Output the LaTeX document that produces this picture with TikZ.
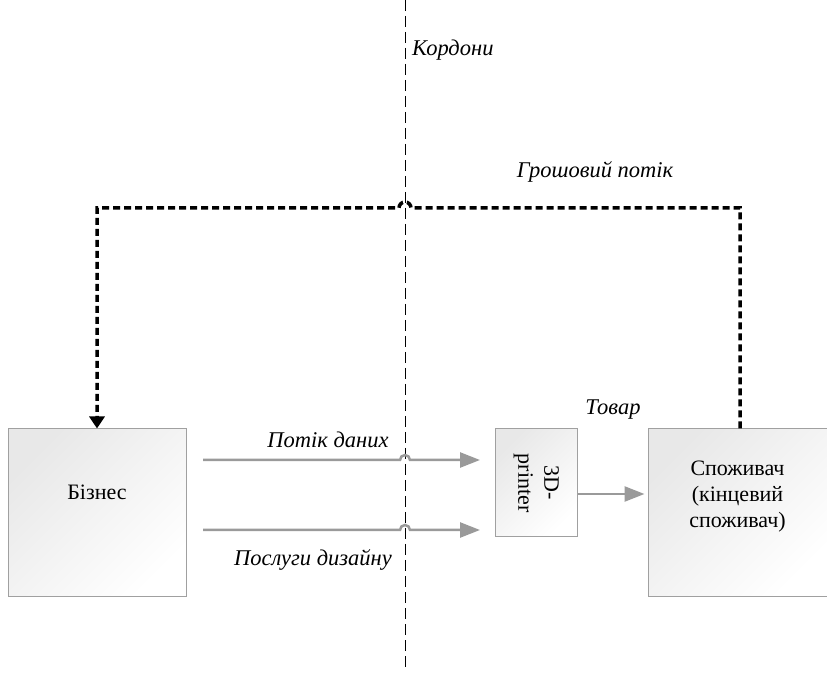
\documentclass[tikz,border=0pt]{standalone}
\usepackage{fontspec}
\setmainfont{Liberation Serif}
\usetikzlibrary{arrows.meta}
\definecolor{boxedge}{HTML}{A0A0A0}
\definecolor{flowgray}{HTML}{9A9A9A}
\tikzset{
  box/.style={draw=boxedge, line width=1pt, left color=gray!18, right color=white, shading angle=45, inner sep=0pt, align=center, font=\fontsize{22}{26}\selectfont},
  flow/.style={draw=flowgray, line width=2.5pt, -{Triangle[length=20pt,width=15pt]}},
  money/.style={draw=black, line width=3.5pt, dash pattern=on 7pt off 4pt, -{Triangle[length=12pt,width=15pt]}},
  border/.style={draw=black, line width=1pt, dash pattern=on 11pt off 5pt},
  lbl/.style={font=\fontsize{22.5}{26}\selectfont\itshape, inner sep=0pt}
}
\begin{document}
\begin{tikzpicture}[x=1pt,y=1pt]
\useasboundingbox (0,0) rectangle (827,672);
% boundary line
\coordinate (btop) at (405,672);
\coordinate (bbot) at (405,0);
\draw[border] (btop) -- (bbot);
\node[lbl, anchor=west] (kord) at (412,622) {Кордони};
% boxes
\node[box, minimum width=178pt, minimum height=168pt] (biz) at (97,159) {\raisebox{13pt}[0pt][0pt]{Бізнес}};
\node[box, minimum width=82pt, minimum height=108pt] (prn) at (536.5,189) {\rotatebox{-90}{\begin{tabular}{@{}c@{}}3D-\\printer\end{tabular}}};
\node[box, minimum width=179pt, minimum height=168pt] (cons) at (737.5,159) {\raisebox{12pt}[0pt][0pt]{\begin{tabular}{@{}c@{}}Споживач\\(кінцевий\\споживач)\end{tabular}}};
% flows
\coordinate (f1s) at (203,212);
\coordinate (f1e) at (480,212);
\coordinate (f2s) at (203,142);
\coordinate (f2e) at (480,142);
\draw[flow] (f1s) -- (400,212) arc (180:0:5) -- (f1e);
\draw[flow] (f2s) -- (400,142) arc (180:0:5) -- (f2e);
\draw[flow] (prn.east |- 0,178) -- ([xshift=-3pt]cons.west |- 0,178);
\node[lbl] (l1) at (328,232) {Потік даних};
\node[lbl] (l2) at (313,112) {Послуги дизайну};
\node[lbl] (l3) at (613,262) {Товар};
% money flow
\coordinate (m1) at (740,464);
\coordinate (m2) at (97,464);
\draw[money] ([xshift=2.5pt]cons.north) -- (m1) -- (411,464) arc (0:180:6) -- (m2) -- (biz.north);
\node[lbl] (l4) at (595,500) {Грошовий потік};
\end{tikzpicture}
\end{document}
